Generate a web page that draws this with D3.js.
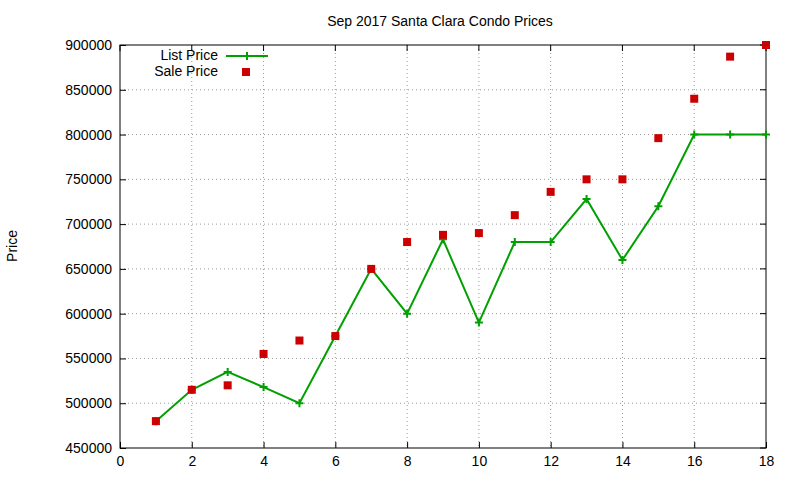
<!DOCTYPE html>
<html><head><meta charset="utf-8">
<script src="https://cdn.jsdelivr.net/npm/d3@7"></script>
<style>body{margin:0;background:#fff}text{font-family:"Liberation Sans",Arial,sans-serif;font-size:14px;fill:#000}</style>
</head><body><svg id="c" width="800" height="480"></svg>
<script>
const days=[1,2,3,4,5,6,7,8,9,10,11,12,13,14,15,16,17,18];
const listPrice=[480000,515000,535000,518000,500000,575000,650000,600000,683000,590000,680000,680000,728000,660000,720000,800000,800000,800000];
const salePrice=[480000,515000,520000,555000,570000,575000,650000,680000,688000,690000,710000,736000,750000,750000,796000,840000,887000,900000];
const xTicks=[0,2,4,6,8,10,12,14,16,18];
const yTicks=[450000,500000,550000,600000,650000,700000,750000,800000,850000,900000];
const svg=d3.select("#c");
const L=120,R=766,T=45,B=448;
const x=d3.scaleLinear().domain([0,18]).range([L,R]);
const y=d3.scaleLinear().domain([450000,900000]).range([B,T]);
const g=svg.append("g");
// grid
g.selectAll(".gx").data(xTicks.slice(1,-1)).join("line").attr("x1",d=>x(d)).attr("x2",d=>x(d)).attr("y1",T).attr("y2",B).attr("stroke","#999").attr("stroke-dasharray","1,3");
g.selectAll(".gy").data(yTicks.slice(1,-1)).join("line").attr("y1",d=>y(d)).attr("y2",d=>y(d)).attr("x1",L).attr("x2",R).attr("stroke","#999").attr("stroke-dasharray","1,3");
svg.append("rect").attr("x",L).attr("y",T).attr("width",R-L).attr("height",B-T).attr("fill","none").attr("stroke","#000");
const ax=svg.append("g").attr("transform",`translate(0,${B})`).call(d3.axisBottom(x).tickValues(xTicks).tickSize(-6).tickPadding(8));
const ay=svg.append("g").attr("transform",`translate(${L},0)`).call(d3.axisLeft(y).tickValues(yTicks).tickSize(-6).tickPadding(8).tickFormat(d3.format("d")));
[ax,ay].forEach(a=>{a.select(".domain").remove();a.selectAll("text").style("font-size","14px").attr("fill","#000");});
// mirror ticks
svg.selectAll(".tt").data(xTicks).join("line").attr("x1",d=>x(d)).attr("x2",d=>x(d)).attr("y1",T).attr("y2",T+6).attr("stroke","#000");
svg.selectAll(".tr").data(yTicks).join("line").attr("y1",d=>y(d)).attr("y2",d=>y(d)).attr("x1",R).attr("x2",R-6).attr("stroke","#000");
svg.append("text").attr("x",440).attr("y",26).attr("text-anchor","middle").text("Sep 2017 Santa Clara Condo Prices");
svg.append("text").attr("transform","translate(17,246) rotate(-90)").attr("text-anchor","middle").text("Price");
const line=d3.line().x((d,i)=>x(days[i])).y(d=>y(d));
svg.append("path").datum(listPrice).attr("d",line).attr("fill","none").attr("stroke","#00a000").attr("stroke-width",2);
const plus=(sel,px,py)=>{sel.append("path").attr("d",`M${px-4},${py}H${px+4}M${px},${py-4}V${py+4}`).attr("stroke","#00a000").attr("stroke-width",2);};
listPrice.forEach((d,i)=>plus(svg,x(days[i]),y(d)));
svg.selectAll(".s").data(salePrice).join("rect").attr("x",(d,i)=>x(days[i])-4).attr("y",d=>y(d)-4).attr("width",8).attr("height",8).attr("fill","#cc0000");
// legend
svg.append("text").attr("x",218).attr("y",60).attr("text-anchor","end").text("List Price");
svg.append("line").attr("x1",226).attr("x2",268).attr("y1",56).attr("y2",56).attr("stroke","#00a000").attr("stroke-width",2);
plus(svg,247,56);
svg.append("text").attr("x",218).attr("y",76).attr("text-anchor","end").text("Sale Price");
svg.append("rect").attr("x",242).attr("y",68).attr("width",8).attr("height",8).attr("fill","#cc0000");
</script></body></html>
